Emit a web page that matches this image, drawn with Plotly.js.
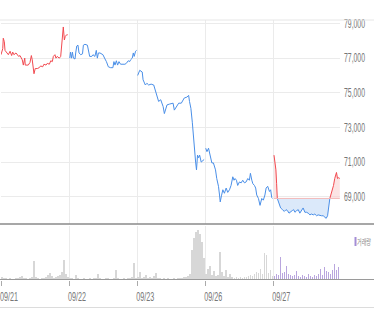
<!DOCTYPE html>
<html><head><meta charset="utf-8">
<script src="https://cdn.plot.ly/plotly-3.0.1.min.js"></script>
<style>html,body{margin:0;padding:0;background:#fff}#c{width:374px;height:309px}</style>
</head><body><div id="c"></div>
<script>
// ---- data ----
const dayLabels = ['09/21','09/22','09/23','09/26','09/27'];
const priceTicks = [69000,71000,73000,75000,77000,79000];
const prevClose5 = 68900;

// minutes since 09:00 and prices, per day
const d1T = [0,10,13,19,23,33,42,52,61,67,74,86,93,101,109,116,122,128,136,139,147,156,166,174,179,185,189,196,208,219,227,239,246,258,265,277,285,294,300,309,315,322,334,342,348,353,357,363,368,376,382];
const d1P = [77200,77550,78150,77950,77450,77350,77200,77400,77150,77350,77200,77300,77200,77100,77150,77000,76900,76600,77000,76600,76600,76600,76750,77150,76900,76400,76100,76400,76400,76450,76550,76500,76650,76600,76700,76650,76850,76800,77100,77200,77000,77100,77000,77100,77750,78500,78800,78050,78250,78350,78350];
const d2T = [4,8,14,19,25,34,38,44,51,57,67,77,82,91,105,111,118,130,137,148,156,162,168,177,185,194,206,214,225,238,251,257,263,271,278,286,295,305,320,328,339,347,352,362,368,373,381,387];
const d2P = [77000,77350,77000,77350,77000,76950,77300,77700,77750,77300,77200,77250,77750,77800,77750,77300,77100,77100,77200,77100,77450,77000,77300,77300,77250,77200,76950,76800,76500,76450,76450,76800,76600,76850,76600,76800,76650,76650,76650,76700,76850,76800,76900,77000,77300,77100,77400,77450];
const d3T = [3,15,29,34,47,56,66,80,95,110,123,135,149,156,171,186,206,213,224,238,253,270,285,295,300,308,316,323,329,335,340,346,352,358,367,376,384];
const d3P = [76000,76300,76200,75750,75450,75550,75450,75500,75450,74850,74500,74600,74200,73800,74300,74350,74400,74000,74200,74400,74400,74700,74750,74850,74500,74100,73300,72300,71500,71000,70550,71400,71250,71400,71000,71100,71150];
const d4T = [3,10,19,29,38,47,59,66,76,82,86,93,101,110,120,129,139,148,158,165,171,179,186,196,206,215,225,234,244,253,259,267,273,282,289,295,305,314,324,333,342,349,358,368,375,381,385];
const d4P = [71800,71600,71800,71400,70950,70950,70550,70050,69600,69100,68700,69050,69400,69200,69500,69250,69400,69650,70150,69950,70050,69950,69650,69850,69800,69950,69800,69850,70050,69950,70350,69950,69750,69650,69500,69100,68900,68500,68900,68800,69100,69500,69600,69300,69400,68950,68900];
const d5T = [4,10,15,19,23,29,34,42,53,63,73,81,90,99,109,117,124,134,143,152,162,171,181,191,200,210,219,229,238,248,257,267,276,286,295,303,311,318,324,330,337,345,352,358,362,368,375,381];
const d5P = [71400,70950,70550,69750,68900,68700,68500,68350,68250,68150,68250,68200,68050,68100,68200,68250,68100,68200,68250,68050,68200,68350,68100,68100,68050,67950,68000,67950,68000,67900,67950,67900,67900,67900,67800,67750,67900,68400,68900,69100,69400,69650,70050,70350,70400,70050,70100,70050];

// volume (thousand shares), 34 slots per day
const v1 = [3,2,2,1,2,1,1,2,2,3,4,2,2,1,2,3,19,3,2,1,2,2,3,5,7,4,2,3,4,5,8,20,6,3];
const v2 = [2,2,1,5,2,1,1,2,1,1,2,1,2,2,6,2,1,1,2,2,1,1,2,10,2,1,1,2,1,2,2,3,17,2];
const v3 = [3,8,2,3,5,2,3,2,4,7,2,2,1,2,1,2,1,1,2,1,2,2,2,3,3,4,6,30,42,48,50,46,38,22];
const v4 = [6,11,14,5,9,4,5,28,8,4,10,3,6,3,2,3,2,3,2,3,3,4,5,4,6,8,7,11,6,27,25,7,10,4];
const v5 = [4,6,5,23,7,8,14,6,5,4,5,9,4,3,5,4,3,6,4,3,5,4,6,11,5,13,9,8,6,10,16,10,13];

// ---- build ----
const RED = '#f24a50', BLUE = '#4a8fe8';
const FILL_R = 'rgba(250,205,205,0.55)', FILL_B = 'rgba(195,218,246,0.6)';
const dayT = [d1T,d2T,d3T,d4T];
const dayP = [d1P,d2P,d3P,d4P];
const dayColor = [RED, BLUE, BLUE, BLUE];
const traces = [];
const toX = (d, m) => d + m/390;

dayT.forEach((T, d) => {
  traces.push({x: T.map(m => toX(d, m)), y: dayP[d], type:'scatter', mode:'lines',
    line:{color:dayColor[d], width:1}, hoverinfo:'skip', xaxis:'x', yaxis:'y'});
});

// day 5 split by previous close
function splitRuns(xs, ys, base){
  const runs = [];
  let cur = {x:[xs[0]], y:[ys[0]], above: ys[0] >= base};
  for (let i=1;i<xs.length;i++){
    const a = ys[i] >= base;
    if (a !== cur.above){
      const xc = xs[i-1] + (base - ys[i-1])/(ys[i]-ys[i-1])*(xs[i]-xs[i-1]);
      cur.x.push(xc); cur.y.push(base);
      runs.push(cur);
      cur = {x:[xc], y:[base], above:a};
    }
    cur.x.push(xs[i]); cur.y.push(ys[i]);
  }
  runs.push(cur);
  return runs;
}
const x5 = d5T.map(m => toX(4, m));
splitRuns(x5, d5P, prevClose5).forEach(r => {
  traces.push({x:r.x, y:r.x.map(()=>prevClose5), type:'scatter', mode:'lines',
    line:{width:0, color:'rgba(0,0,0,0)'}, hoverinfo:'skip', xaxis:'x', yaxis:'y'});
  traces.push({x:r.x, y:r.y, type:'scatter', mode:'lines', fill:'tonexty',
    fillcolor: r.above ? FILL_R : FILL_B,
    line:{color: r.above ? RED : BLUE, width:1}, hoverinfo:'skip', xaxis:'x', yaxis:'y'});
});
// previous close line for day 5
traces.push({x:[x5[0], x5[x5.length-1]], y:[prevClose5, prevClose5], type:'scatter', mode:'lines',
  line:{color:'#f3b9b9', width:1}, hoverinfo:'skip', xaxis:'x', yaxis:'y'});

// volume
const vols = [v1,v2,v3,v4,v5];
vols.forEach((v, d) => {
  traces.push({type:'bar', x: v.map((_, i) => d + (i+0.5)/34), y: v.map(k => k*1000),
    width: 0.75/34, marker:{color: d===4 ? '#b9a6de' : '#d7d7d7', line:{width:0}},
    hoverinfo:'skip', xaxis:'x', yaxis:'y2'});
});

const FONT = '"Liberation Sans", Arial, sans-serif';
const T = 20, B = 29, H = 309 - T - B;
const py = p => (309 - B - p) / H; // pixel y -> paper y
const px = p => (p - 1) / 339;     // pixel x -> paper x

const layout = {
  width:374, height:309,
  margin:{l:1, r:34, t:T, b:B, pad:0},
  paper_bgcolor:'#fff', plot_bgcolor:'#fff',
  showlegend:false, bargap:0,
  xaxis:{range:[0,4.98], tickvals:[0,1,2,3,4], ticktext:dayLabels, anchor:'y2',
    showgrid:true, gridcolor:'#ebebeb', gridwidth:1, zeroline:false,
    ticks:'outside', ticklen:5, tickcolor:'#aaa', tickwidth:1,
    ticklabelshift:8, ticklabelstandoff:1, ticklabeloverflow:'allow',
    tickfont:{family:FONT, size:12, color:'#777'}, showline:false, fixedrange:true},
  yaxis:{domain:[py(224),1], range:[67424,79203], side:'right', tickvals:priceTicks, tickformat:',d',
    showgrid:true, gridcolor:'#ebebeb', gridwidth:1, zeroline:false, ticks:'', ticklabelstandoff:3,
    ticklabeloverflow:'allow',
    tickfont:{family:FONT, size:12, color:'#777'}, showline:false, fixedrange:true},
  yaxis2:{domain:[0, py(225.5)], range:[0,54600], showgrid:false, zeroline:false,
    showticklabels:false, ticks:'', showline:false, fixedrange:true},
  shapes:[
    {type:'line', xref:'paper', yref:'paper', x0:-0.01, x1:1.11, y0:1, y1:1, line:{color:'#e6e6e6', width:1}},
    {type:'line', xref:'paper', yref:'paper', x0:-0.01, x1:1.11, y0:py(224), y1:py(224), line:{color:'#8a8a8a', width:1.5}},
    {type:'line', xref:'paper', yref:'paper', x0:-0.01, x1:1.11, y0:py(279.5), y1:py(279.5), line:{color:'#9a9a9a', width:1}},
    {type:'line', xref:'paper', yref:'paper', x0:-0.01, x1:1.11, y0:py(307.5), y1:py(307.5), line:{color:'#dcdcdc', width:1}},
    {type:'rect', xref:'paper', yref:'paper', x0:px(354.5), x1:px(356.5), y0:py(246), y1:py(237), fillcolor:'#a48ed6', line:{width:0}}
  ],
  annotations:[
    {xref:'paper', yref:'paper', x:px(364), y:py(241.5), xanchor:'center', yanchor:'middle', showarrow:false,
     text:'거래량', font:{family:'"Noto Sans CJK KR", sans-serif', size:8, color:'#888'}}
  ]
};

// squeeze a text element horizontally about its own x anchor
function squeeze(t, target){
  const w = t.getComputedTextLength();
  if (!w || w <= target) return;
  const s = target / w;
  const x0 = parseFloat(t.getAttribute('x')) || 0;
  const tr = t.getAttribute('transform') || '';
  t.setAttribute('transform', tr + ' translate(' + x0 + ',0) scale(' + s + ',1) translate(' + (-x0) + ',0)');
}
Plotly.newPlot('c', traces, layout, {displayModeBar:false, staticPlot:true}).then(gd => {
  gd.querySelectorAll('.ytick text').forEach(t => squeeze(t, 21));
  gd.querySelectorAll('.xtick text').forEach(t => squeeze(t, 18));
  gd.querySelectorAll('.annotation-text').forEach(t => squeeze(t, 14));
});
</script></body></html>
